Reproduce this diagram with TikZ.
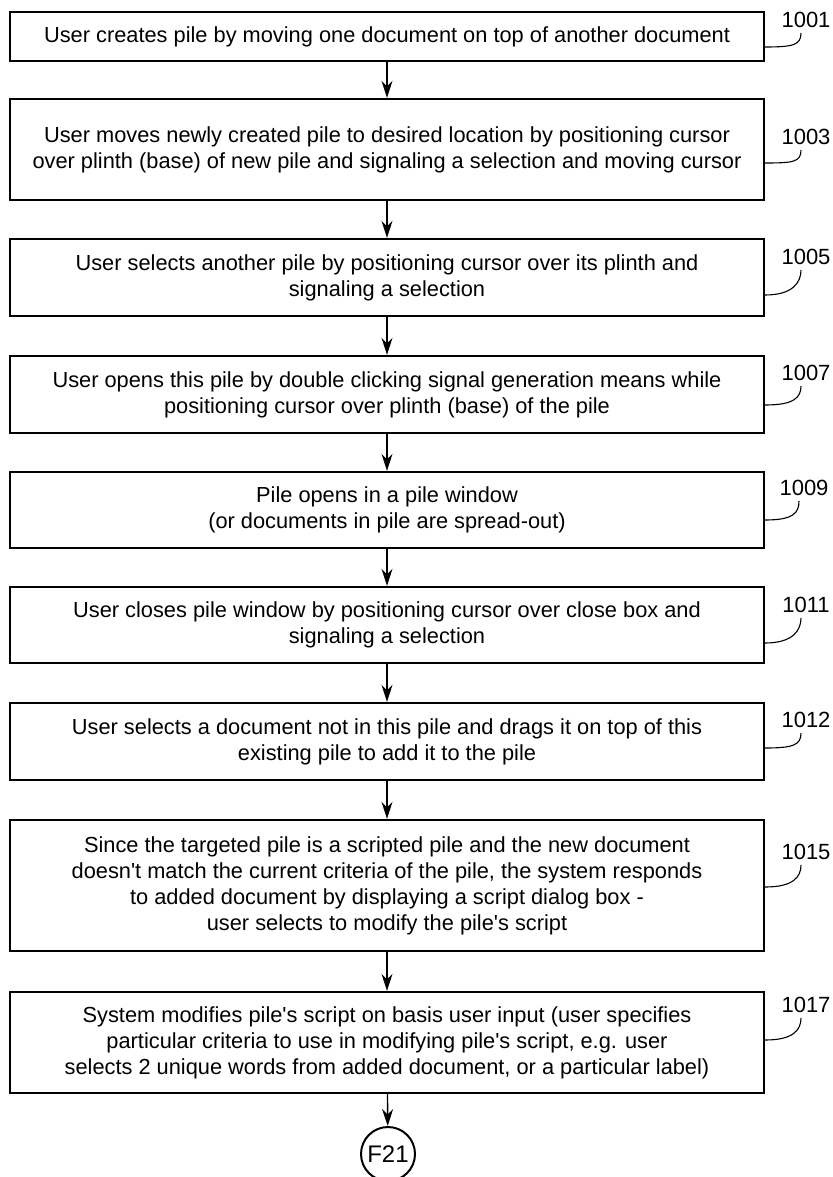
\documentclass[tikz,border=0pt]{standalone}
\usepackage{fontspec}
\setmainfont{Liberation Sans}[Ligatures=TeXOff]
\usetikzlibrary{arrows.meta,positioning}

\tikzset{
 stepbox/.style={draw,line width=2.4pt,minimum width=754pt,inner sep=0pt,
  align=center,font=\fontsize{21.8}{26}\selectfont},
 reflabel/.style={inner sep=0pt,font=\fontsize{22}{24}\selectfont},
 leader/.style={line width=1.1pt},
 flow/.style={->,line width=1.4pt}
}

\begin{document}
\begin{tikzpicture}[x=1pt,y=-1pt,>={Stealth[length=17pt,width=11pt]}]
\useasboundingbox (0,0) rectangle (832,1177);
\foreach \n/\ya/\yb/\t in {
 1001/12/61/{User creates pile by moving one document on top of another document},
 1003/99/200/{User moves newly created pile to desired location by positioning cursor\\over plinth (base) of new pile and signaling a selection and moving cursor},
 1005/239/316/{User selects another pile by positioning cursor over its plinth and\\signaling a selection},
 1007/356/433/{User opens this pile by double clicking signal generation means while\\positioning cursor over plinth (base) of the pile},
 1009/472/548/{Pile opens in a pile window\\(or documents in pile are spread-out)},
 1011/587/663/{User closes pile window by positioning cursor over close box and\\signaling a selection},
 1012/703/780/{User selects a document not in this pile and drags it on top of this\\existing pile to add it to the pile},
 1015/820/951/{Since the targeted pile is a scripted pile and the new document\\doesn't match the current criteria of the pile, the system responds\\to added document by displaying a script dialog box -\\user selects to modify the pile's script},
 1017/992/1093/{System modifies pile's script on basis user input (user specifies\\particular criteria to use in modifying pile's script, e.g. user\\selects 2 unique words from added document, or a particular label)}}{
 \node[stepbox,minimum height=\yb-\ya] (b\n) at (387,{(\ya+\yb)/2}) {\t};
}
\node[circle,draw,line width=2pt,minimum size=54pt,inner sep=0pt,
 font=\fontsize{24}{26}\selectfont] (f21) at (388,1154) {F21};

% reference numerals
\foreach \n/\lx/\ly/\sy in {1001/806/20/47,1003/806/137/163,1005/806/257/295,
 1007/806/373/405,1009/804/488/520,1011/806/605/643,1012/806/720/748,
 1015/806/852/887,1017/806/1005/1040}{
 \node[reflabel] (l\n) at (\lx,\ly) {\n};
 \draw[leader] (b\n.east |- 0,\sy) .. controls +(28,0) and +(0,12) .. ([xshift=-5pt,yshift=-5pt]l\n.south);
}

\foreach \a/\b in {1001/1003,1003/1005,1005/1007,1007/1009,1009/1011,
 1011/1012,1012/1015,1015/1017}
 \draw[flow] (b\a) -- (b\b);
\draw[flow] (b1017) -- (f21);
\end{tikzpicture}
\end{document}
